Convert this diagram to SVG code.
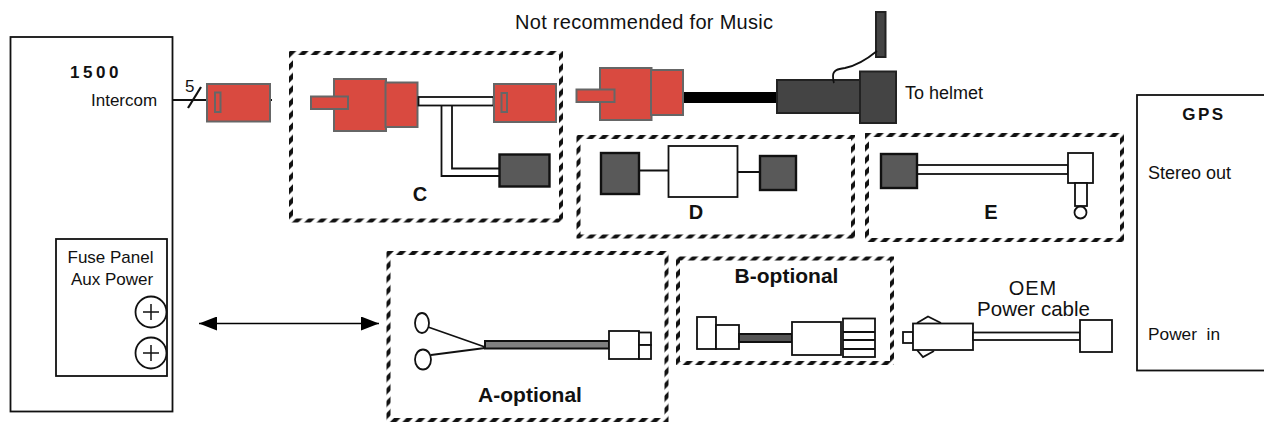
<svg xmlns="http://www.w3.org/2000/svg" width="1264" height="423" viewBox="0 0 1264 423">
<style>
text{font-family:"Liberation Sans",Arial,sans-serif;fill:#111;font-size:17px}
.b{font-weight:bold;text-anchor:middle;font-size:20px}
.m{text-anchor:middle}
.frame{fill:none;stroke:url(#hatch);stroke-width:4}
.box{fill:#fff;stroke:#111;stroke-width:1.800}
.thin{fill:none;stroke:#111;stroke-width:1.800}
.red{fill:#d94a40;stroke:#666;stroke-width:2}
.grey{fill:#595959;stroke:#111;stroke-width:2.4}
.dark{fill:#444;stroke:#222;stroke-width:2}
</style>
<defs>
<pattern id="hatch" width="12.4" height="12.4" patternUnits="userSpaceOnUse">
<path d="M0 6L6 0H12.4L0 12.4ZM12.4 6V12.4H6Z" fill="#111"/>
</pattern>
<marker id="ah" markerUnits="userSpaceOnUse" markerWidth="19" markerHeight="14" refX="18" refY="7" orient="auto-start-reverse"><path d="M0 0L18 7L0 14Z" fill="#000"/></marker>
</defs>
<rect width="1264" height="423" fill="#fff"/>

<g id="connectors">
<path class="thin" d="M172 100H206"/>
<path class="thin" d="M188 108L201 87" style="stroke-width:2.200"/>
<path class="thin" d="M271 100H272"/>
<path d="M199 323.5H379" fill="none" stroke="#000" stroke-width="1.6" marker-start="url(#ah)" marker-end="url(#ah)"/>
</g>

<g id="unit-1500">
<rect class="box" x="10.5" y="37" width="162" height="374.500"/>
<text class="m" x="96" y="78" letter-spacing="3.5" style="font-weight:bold">1500</text>
<text x="91" y="106">Intercom</text>
<text x="185" y="92">5</text>
</g>

<g id="fuse-panel">
<rect class="box" x="56" y="239" width="111" height="137"/>
<text class="m" x="110.500" y="263">Fuse Panel</text>
<text class="m" x="112" y="284.500">Aux Power</text>
<circle class="box" cx="151" cy="312" r="15.500"/>
<path class="thin" d="M143 312H159M151 304V320" style="stroke-width:1.500"/>
<circle class="box" cx="151" cy="353" r="15.500"/>
<path class="thin" d="M143 353H159M151 345V361" style="stroke-width:1.500"/>
</g>

<g id="plug-intercom">
<rect class="red" x="207" y="84" width="63" height="37.500"/>
<rect class="red" x="215" y="92.500" width="5.500" height="19.500"/>
</g>

<g id="cable-c">
<rect class="frame" x="291" y="53" width="270" height="167.500"/>
<path class="thin" d="M441.500 106V176H499M452 106V168.500H502"/>
<rect class="red" x="334" y="79" width="52" height="52"/>
<rect class="red" x="385.500" y="82.500" width="32" height="44.500"/>
<rect class="red" x="311" y="96.500" width="37" height="12.500"/>
<rect class="box" x="418.500" y="97" width="75" height="8.500"/>
<rect class="red" x="494" y="84" width="62" height="38"/>
<rect class="red" x="501.500" y="93" width="5.500" height="19"/>
<rect class="grey" x="499.500" y="154.500" width="50" height="32"/>
<text class="b" x="420" y="201">C</text>
</g>

<g id="cable-helmet">
<text x="515" y="29" style="font-size:20px" textLength="258">Not recommended for Music</text>
<rect x="681" y="92" width="96" height="11" fill="#000"/>
<rect class="red" x="600" y="68" width="51.500" height="52"/>
<rect class="red" x="651" y="70" width="32" height="45"/>
<rect class="red" x="576.500" y="89.500" width="38" height="12.500"/>
<rect class="dark" x="777" y="80" width="83" height="33"/>
<rect class="dark" x="860" y="71.500" width="36" height="51.500"/>
<rect class="dark" x="876" y="12" width="9.500" height="45"/>
<path class="thin" d="M877 51C866 60 855 66 845 68C838 69 833 70 833 76C833 79 833 81 834 83"/>
<text x="905" y="99" style="font-size:18px">To helmet</text>
</g>

<g id="cable-d">
<rect class="frame" x="578.500" y="137" width="274.500" height="99.500"/>
<path class="thin" d="M639 170.500H669M737 172H760"/>
<rect class="grey" x="601" y="153" width="38" height="41"/>
<rect class="box" x="668.500" y="146" width="69" height="51"/>
<rect class="grey" x="760" y="156" width="36" height="34"/>
<text class="b" x="696" y="219">D</text>
</g>

<g id="cable-e">
<rect class="frame" x="867" y="135" width="255" height="105"/>
<rect class="box" x="917" y="165" width="151" height="9"/>
<rect class="grey" x="881" y="154" width="36" height="34"/>
<rect class="box" x="1068" y="153" width="25" height="30"/>
<rect class="box" x="1075" y="183" width="12" height="23"/>
<circle class="box" cx="1080.500" cy="212.500" r="6"/>
<text class="b" x="991" y="219">E</text>
</g>

<g id="cable-a">
<rect class="frame" x="388.500" y="253" width="278" height="167"/>
<ellipse class="box" cx="422" cy="323" rx="7" ry="10"/>
<ellipse class="box" cx="423" cy="359.500" rx="8" ry="10"/>
<path class="thin" d="M428 327L485 347M431 355L485 348"/>
<rect x="485" y="341" width="124" height="7.500" fill="#808080" stroke="#111" stroke-width="2"/>
<rect class="box" x="609" y="331" width="30" height="28"/>
<rect class="box" x="639" y="332.500" width="12" height="12.500"/>
<rect class="box" x="639" y="345" width="12" height="14"/>
<text class="b" x="530" y="402" style="font-size:21px">A-optional</text>
</g>

<g id="cable-b">
<rect class="frame" x="678" y="258.500" width="214" height="104.500"/>
<rect class="box" x="697" y="317" width="19" height="32"/>
<rect class="box" x="716" y="325" width="23" height="24"/>
<rect x="739" y="334" width="53" height="8" fill="#555" stroke="#111" stroke-width="2"/>
<rect class="box" x="792" y="322" width="49" height="33"/>
<rect class="box" x="843" y="318.500" width="32" height="38.500"/>
<path class="thin" d="M843 332H875M843 340H875M843 349H875"/>
<text class="b" x="786.500" y="283" style="font-size:21px">B-optional</text>
</g>

<g id="cable-oem">
<rect class="box" x="903" y="332" width="10" height="11"/>
<path class="box" d="M917 323L928 316.500L941 323M917 350L923 357L934 351"/>
<rect class="box" x="913" y="323.500" width="60" height="26.500"/>
<rect class="box" x="973" y="332.500" width="107" height="7.500"/>
<rect class="box" x="1080" y="320" width="32" height="32"/>
<text class="m" x="1033" y="295" letter-spacing="1" style="font-size:20px">OEM</text>
<text class="m" x="1033.500" y="316" style="font-size:20.5px">Power cable</text>
</g>

<g id="gps">
<rect class="box" x="1137" y="95" width="140" height="275.500"/>
<text class="m" x="1204" y="120" letter-spacing="2.500" style="font-weight:bold">GPS</text>
<text x="1148" y="179" style="font-size:18px">Stereo out</text>
<text x="1148" y="339.500" xml:space="preserve" style="font-size:17.3px">Power  in</text>
</g>
</svg>
